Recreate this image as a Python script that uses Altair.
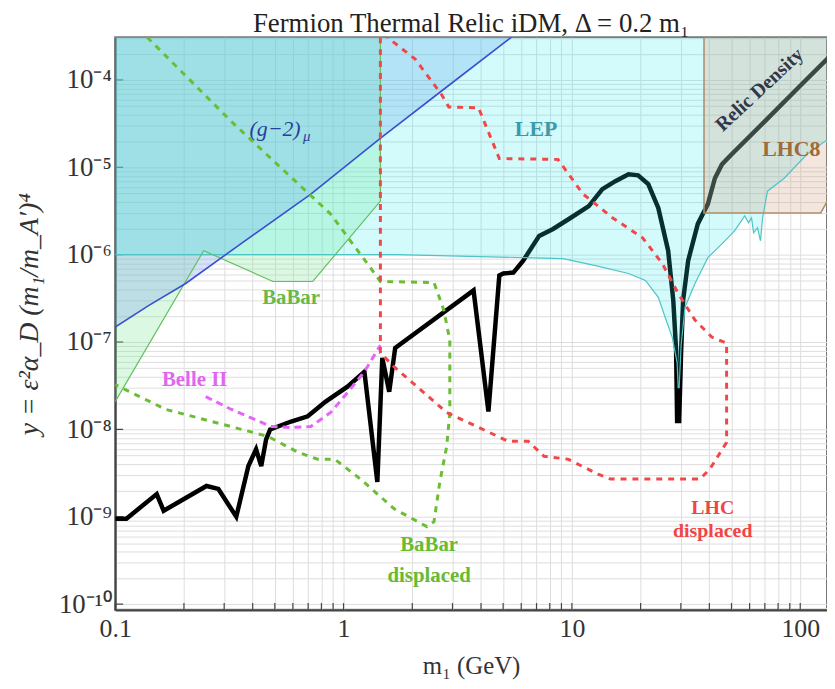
import altair as alt
import pandas as pd

SERIF = "Liberation Serif"
X_DOMAIN = [0.1, 131.0]
Y_DOMAIN = [8.55e-11, 3.08e-4]
Y_TOP = 3.08e-4

# ---------------- data ----------------
# Relic density (thick black)
RELIC_M = [0.1, 0.112, 0.152, 0.163, 0.251, 0.283, 0.339, 0.383, 0.414, 0.436,
           0.458, 0.477, 0.589, 0.697, 0.835, 1.04, 1.234, 1.406, 1.478, 1.585,
           1.683, 3.71, 4.31, 4.81, 5.01, 5.54, 6.12, 7.19, 8.27, 9.70,
           11.86, 13.6, 15.5, 17.7, 19.5, 21.6, 23.9, 26.4, 27.8, 28.6,
           28.9, 29.5, 30.1, 30.7, 32.3, 35.6, 39.4, 42.3, 45.4, 50.1,
           71.9, 101, 133.7]
RELIC_Y = [9.5e-10, 9.5e-10, 1.82e-9, 1.17e-9, 2.25e-9, 2.08e-9, 1.0e-9, 3.8e-9, 5.93e-9, 3.8e-9,
           7.7e-9, 1.0e-8, 1.23e-8, 1.41e-8, 2.08e-8, 3.08e-8, 4.56e-8, 2.5e-9, 6.58e-8, 2.7e-8,
           8.55e-8, 3.9e-7, 1.6e-8, 5.77e-7, 6.08e-7, 6.24e-7, 8.55e-7, 1.64e-6, 1.97e-6, 2.56e-6,
           3.6e-6, 5.62e-6, 6.93e-6, 8.3e-6, 8.1e-6, 6.41e-6, 3.42e-6, 1.11e-6, 3.0e-7, 8.1e-8,
           1.25e-8, 1.25e-8, 8.1e-8, 3.0e-7, 8.55e-7, 2.25e-6, 3.8e-6, 7.5e-6, 1.08e-5, 1.41e-5,
           3.6e-5, 8.8e-5, 1.82e-4]

# LEP exclusion lower boundary
LEP_M = [0.1, 1.717, 6.12, 9.14, 12.7, 17.7, 21.0, 23.9, 25.6, 27.5,
         28.9, 29.2, 29.5, 30.1, 31.3, 34.6, 39.4, 45.4, 51.6, 57.1,
         59.4, 61.2, 62.5, 65.0, 67.0, 68.4, 71.9, 85.1, 107, 133.7]
LEP_Y = [1.0e-6, 1.0e-6, 9.25e-7, 9.0e-7, 7.5e-7, 6.08e-7, 5.07e-7, 3.25e-7, 1.92e-7, 1.14e-7,
         5.77e-8, 3.0e-8, 3.0e-8, 9.2e-8, 2.5e-7, 4.68e-7, 9.25e-7, 1.33e-6, 1.87e-6, 2.77e-6,
         2.31e-6, 2.63e-6, 1.78e-6, 2.03e-6, 1.44e-6, 2.63e-6, 5.33e-6, 7.5e-6, 1.41e-5, 2.14e-5]

# (g-2)_mu
G2_M = [0.1, 0.1405, 0.2035, 0.346, 0.719, 1.448, 2.83, 5.43]
G2_Y = [1.48e-7, 2.63e-7, 4.68e-7, 1.27e-6, 4.93e-6, 2.14e-5, 8.3e-5, 3.08e-4]

# BaBar (solid)
BABAR_M = [0.1, 0.244, 0.491, 0.733, 1.45]
BABAR_Y = [2.08e-8, 1.11e-6, 4.93e-7, 4.93e-7, 4.11e-6]

# BaBar displaced (green dashed)
BABARD_M = [0.138, 0.323, 0.571, 0.878, 1.072, 1.31, 1.45, 2.49, 2.75, 2.92,
            2.92, 2.83, 2.64, 2.49, 2.32, 1.667, 1.186, 0.914, 0.771, 0.631,
            0.467, 0.275, 0.1667, 0.1]
BABARD_Y = [3.08e-4, 3.33e-5, 8.3e-6, 2.92e-6, 1.44e-6, 7.1e-7, 4.93e-7, 4.8e-7, 2.31e-7, 1.05e-7,
            1.56e-8, 6.4e-9, 2.5e-9, 8.8e-10, 7.7e-10, 1.23e-9, 2.7e-9, 4.56e-9, 4.56e-9, 5.48e-9,
            8.3e-9, 1.2e-8, 1.69e-8, 3.25e-8]

# Belle II (magenta dashed)
BELLE_M = [0.249, 0.323, 0.482, 0.589, 0.719, 0.878, 1.04, 1.234, 1.45]
BELLE_Y = [2.37e-8, 1.69e-8, 1.08e-8, 1.05e-8, 1.08e-8, 1.56e-8, 2.63e-8, 4.56e-8, 9.2e-8]

# LHC displaced (red dashed)
LHCD_M = [1.45, 1.45, 1.667, 2.83, 5.27, 6.44, 7.55, 9.61, 13.0, 14.8,
          36.4, 40.2, 47.6, 47.6, 41.0, 34.6, 29.2, 24.9, 20.4, 15.1,
          11.2, 8.69, 4.81, 3.9, 2.89, 2.69, 2.06, 1.554]
LHCD_Y = [3.08e-4, 7.5e-8, 5.2e-8, 1.56e-8, 7.3e-9, 7.3e-9, 4.93e-9, 4.56e-9, 3.08e-9, 2.7e-9,
          2.7e-9, 3.51e-9, 7.1e-9, 9.7e-8, 1.14e-7, 1.78e-7, 3.6e-7, 7.9e-7, 1.56e-6, 2.63e-6,
          4.93e-6, 1.23e-5, 1.26e-5, 4.8e-5, 4.9e-5, 6.76e-5, 1.73e-4, 3.08e-4]

# LHC8
LHC8_M = [37.9, 123, 133.7]
LHC8_Y = [3.0e-6, 3.0e-6, 4.45e-6]
LHC8_EDGE_M = [37.9, 37.9, 123, 133.7]
LHC8_EDGE_Y = [3.08e-4, 3.0e-6, 3.0e-6, 4.45e-6]

# BaBar outline incl. vertical edge
BABAR_EDGE_M = BABAR_M + [1.45]
BABAR_EDGE_Y = BABAR_Y + [3.08e-4]

# text labels
LABEL_TEXT = ["LEP", "LHC8", "BaBar", "Belle II", "BaBar", "displaced", "LHC", "displaced"]
LABEL_M = [6.97, 91.4, 0.589, 0.2228, 2.37, 2.37, 41.4, 41.4]
LABEL_Y = [2.77e-5, 1.6e-5, 3.16e-7, 3.7e-8, 4.8e-10, 2.08e-10, 1.26e-9, 6.9e-10]
LABEL_SIZE = [22, 22, 21, 21, 21, 21, 20, 20]
LABEL_COLOR = ["#3a9aaa", "#a06a3c", "#6ab84a", "#e066f0", "#66bb33", "#66bb33", "#f04545", "#f04545"]

X_TICKS = [float(f"{k}e{e}") for e in (-1, 0, 1) for k in range(1, 10)] + [100.0]
Y_TICKS = [v for v in (float(f"{k}e{e}") for e in range(-11, -3) for k in range(1, 10))
           if Y_DOMAIN[0] <= v <= Y_DOMAIN[1]]
Y_DECADES = [float(f"1e{e}") for e in range(-10, -3)]

SUP = {"0": "⁰", "1": "¹", "2": "²", "3": "³", "4": "⁴", "5": "⁵",
       "6": "⁶", "7": "⁷", "8": "⁸", "9": "⁹", "-": "⁻"}

y_label_expr = "".join(
    f"abs(datum.value - 1e{e}) < 1e{e-3} ? '10{''.join(SUP[c] for c in str(e))}' : "
    for e in range(-10, -3)) + "''"
x_label_expr = ("abs(datum.value-0.1)<1e-4 ? '0.1' : abs(datum.value-1)<1e-3 ? '1' : "
                "abs(datum.value-10)<1e-2 ? '10' : abs(datum.value-100)<1e-1 ? '100' : ''")

W, H = 717, 577

x_scale = alt.Scale(type="log", domain=X_DOMAIN, nice=False)
y_scale = alt.Scale(type="log", domain=Y_DOMAIN, nice=False)

x_axis = alt.Axis(values=X_TICKS, labelExpr=x_label_expr, title="m₁ (GeV)",
                  grid=True, gridColor="#dedede", gridWidth=1, ticks=False,
                  domainColor="#444", domainWidth=2,
                  labelFont=SERIF, labelFontSize=26, labelColor="#333", labelPadding=6,
                  labelFlush=False, labelOverlap=False, labelBound=False,
                  titleFont=SERIF, titleFontSize=25, titleFontWeight="normal", titleColor="#333",
                  titleY=56, titleBaseline="middle")
y_axis = alt.Axis(values=Y_TICKS, labelExpr=y_label_expr, title="y = ε²α_D (m₁/m_A′)⁴",
                  grid=True, gridColor="#dedede", gridWidth=1, ticks=False,
                  domainColor="#444", domainWidth=2,
                  labelFont=SERIF, labelFontSize=27, labelColor="#333", labelPadding=4,
                  labelFlush=False, labelOverlap=False, labelBound=False,
                  titleFont=SERIF, titleFontSize=28, titleFontWeight="normal",
                  titleFontStyle="italic", titleColor="#333",
                  titleX=-86, titleY=H / 2 - 10, titleAngle=270, titleAlign="center",
                  titleBaseline="middle")


def X(f="m"):
    return alt.X(f"{f}:Q", scale=x_scale, axis=x_axis)


def Y(f="y"):
    return alt.Y(f"{f}:Q", scale=y_scale, axis=y_axis)


def path(xs, ys):
    return pd.DataFrame({"m": xs, "y": ys, "i": list(range(len(xs))), "top": [Y_TOP] * len(xs)})


xticks = alt.Chart(pd.DataFrame({"m": X_TICKS})).mark_rule(color="#444", strokeWidth=1.2).encode(
    x=X(), y=alt.value(H - 7), y2=alt.value(H))
yticks = alt.Chart(pd.DataFrame({"y": Y_DECADES})).mark_rule(color="#444", strokeWidth=1.2).encode(
    y=Y(), x=alt.value(0), x2=alt.value(8))


def area(xs, ys, color, op):
    return alt.Chart(path(xs, ys)).mark_area(color=color, opacity=op, clip=True).encode(
        x=X(), y=Y(), y2="top:Q")


def line(xs, ys, color, width, dash=None):
    kw = dict(color=color, strokeWidth=width, clip=True)
    if dash:
        kw["strokeDash"] = dash
    return alt.Chart(path(xs, ys)).mark_line(**kw).encode(x=X(), y=Y(), order="i:Q")


babar_area = area(BABAR_M, BABAR_Y, "#7de898", 0.28)
g2_area = area(G2_M, G2_Y, "#78a0eb", 0.3)
lep_area = area(LEP_M, LEP_Y, "#28ecec", 0.2)
lhc8_area = area(LHC8_M, LHC8_Y, "#cf9b7b", 0.25)

relic = line(RELIC_M, RELIC_Y, "#000000", 4.5)
lep_line = line(LEP_M, LEP_Y, "#4cc4c8", 1.2)
babar_line = line(BABAR_EDGE_M, BABAR_EDGE_Y, "#62c060", 1.2)
g2_line = line(G2_M, G2_Y, "#3a50d0", 1.6)
lhc8_line = line(LHC8_EDGE_M, LHC8_EDGE_Y, "#b0906a", 1.6)

babard = line(BABARD_M, BABARD_Y, "#6cbc34", 3, [6, 6])
belle = line(BELLE_M, BELLE_Y, "#e466f8", 3, [7, 5])
lhcd = line(LHCD_M, LHCD_Y, "#f04848", 3, [6, 6])

lab_df = pd.DataFrame({"t": LABEL_TEXT, "m": LABEL_M, "y": LABEL_Y, "c": LABEL_COLOR, "s": LABEL_SIZE})
labels = alt.Chart(lab_df).mark_text(font=SERIF, fontWeight="bold",
                                     baseline="middle", align="center").encode(
    x=X(), y=Y(), text="t:N", color=alt.Color("c:N", scale=None),
    size=alt.Size("s:Q", scale=None))

g2_df = pd.DataFrame({"t": ["(g−2)", "μ"], "m": [0.501, 0.69], "y": [2.77e-5, 2.3e-5],
                      "s": [22, 15]})
g2_text = alt.Chart(g2_df).mark_text(font=SERIF, fontStyle="italic", color="#2a3f9a",
                                     baseline="middle", align="center").encode(
    x=X(), y=Y(), text="t:N", size=alt.Size("s:Q", scale=None))

relic_text = alt.Chart(pd.DataFrame({"t": ["Relic Density"], "m": [66.4], "y": [7.7e-5]})).mark_text(
    font=SERIF, fontSize=20, fontWeight="bold", color="#33374a", angle=317,
    baseline="middle", align="center").encode(x=X(), y=Y(), text="t:N")

chart = alt.layer(
    xticks, yticks,
    babar_area, g2_area, relic, lep_area, lhc8_area,
    lep_line, babar_line, g2_line, lhc8_line,
    babard, belle, lhcd,
    labels, g2_text, relic_text,
).properties(
    width=W, height=H,
    padding={"left": 108, "top": 27, "right": 0, "bottom": 68},
    autosize=alt.AutoSizeParams(type="none"),
    title=alt.TitleParams("Fermion Thermal Relic iDM, Δ = 0.2 m₁", font=SERIF, fontSize=27,
                          fontWeight="normal", color="#222", offset=4, dy=18),
).configure_view(stroke="#777", strokeWidth=2)

chart.save("out.html", embed_options={"renderer": "svg", "actions": False})
